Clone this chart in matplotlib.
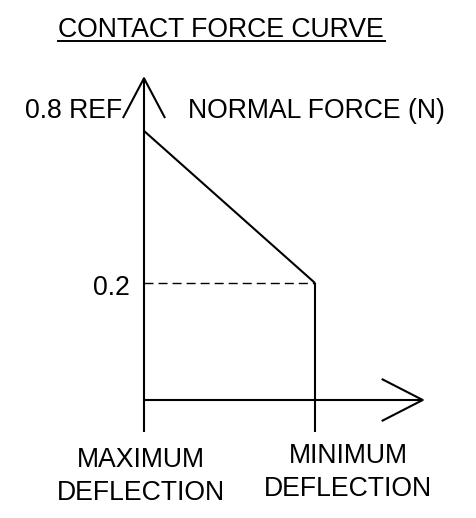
import matplotlib.pyplot as plt
from matplotlib.lines import Line2D

plt.rcParams['font.family'] = ['Liberation Sans', 'DejaVu Sans']

# schematic values (drawing units: x = deflection position, y = force)
deflection = [0.0, 1.0]          # max deflection -> min deflection
force = [0.46, 0.2]              # drawn curve heights
ref_label = '0.8 REF'
min_label = '0.2'
y_title = 'NORMAL FORCE (N)'
x_labels = ['MAXIMUM\nDEFLECTION', 'MINIMUM\nDEFLECTION']
title = 'CONTACT FORCE CURVE'

W, H = 477, 518
fig = plt.figure(figsize=(W / 100, H / 100), dpi=100)
ax = fig.add_axes([0, 0, 1, 1])
ax.set_xlim(-144 / 171, (W - 144) / 171)
ax.set_ylim((400 - H) / 585, 400 / 585)
ax.axis('off')

lw = 1.5
fs = 19.2
k = dict(color='black', lw=lw, solid_capstyle='butt')

# axes with open arrow heads
ax.plot([0, 0], [-0.055, 0.55], **k)
ax.plot([-0.123, 0, 0.123], [0.55 - 0.068, 0.55, 0.55 - 0.068], **k)
ax.plot([0, 1.63], [0, 0], **k)
ax.plot([1.63 - 0.24, 1.63, 1.63 - 0.24], [0.036, 0, -0.036], **k)

# force curve
ax.plot(deflection, force, **k)
ax.plot([deflection[1], deflection[1]], [force[1], -0.055], **k)
ax.plot([0, deflection[1]], [force[1], force[1]], color='black', lw=1.0,
        linestyle=(0, (6.5, 3.6)))


def fx(px):
    return px / W


def fy(py):
    return 1 - py / H


fig.text(fx(58), fy(37), title, fontsize=fs, ha='left', va='baseline')
fig.add_artist(Line2D([fx(58), fx(385)], [fy(41), fy(41)], color='black', lw=1.4))

fig.text(fx(122), fy(118), ref_label, fontsize=fs, ha='right', va='baseline')
fig.text(fx(188), fy(118), y_title, fontsize=fs, ha='left', va='baseline')
fig.text(fx(130), fy(295), min_label, fontsize=fs, ha='right', va='baseline')

for lab, cx, base in zip(x_labels, [141, 348], [467, 463]):
    for i, line in enumerate(lab.split('\n')):
        fig.text(fx(cx), fy(base + 33 * i), line, fontsize=fs,
                 ha='center', va='baseline')

fig.savefig('out.png', dpi=100)
